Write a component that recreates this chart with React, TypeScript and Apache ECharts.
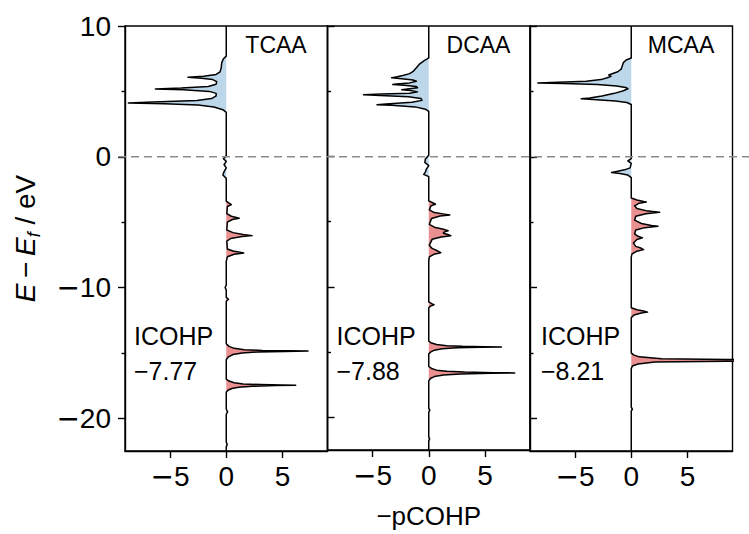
import React, { useEffect, useRef } from "react";
import * as echarts from "echarts";

// ---- data (energy E − Ef in eV, −pCOHP value) ----
const panelNames = ["TCAA", "DCAA", "MCAA"];
const icohpLabel = "ICOHP";
const icohpValues = ["\u22127.77", "\u22127.88", "\u22128.21"];
const xTicks = [-5, 0, 5];
const yMajorTicks = [-20, -10, 0, 10];
const yMinorTicks = [-15, -5, 5];

const tcaaCurve: [number, number][] = [
  [10, 0], [7.7, 0], [7.5, -0.25], [7.2, -0.4], [6.8, -0.45], [6.5, -0.55], [6.3, -0.9],
  [6.15, -2.0], [6.08, -3.4], [6.0, -2.2], [5.9, -1.2], [5.75, -0.85], [5.55, -0.9],
  [5.38, -1.6], [5.25, -4.0], [5.18, -6.3], [5.12, -3.8], [5.0, -1.5], [4.85, -0.9],
  [4.65, -0.9], [4.45, -1.3], [4.3, -2.6], [4.18, -6.5], [4.12, -8.7], [4.06, -5.5],
  [3.95, -2.5], [3.8, -1.1], [3.6, -0.3], [3.4, 0],
  [0.1, 0], [-0.15, -0.25], [-0.35, 0], [-0.6, -0.2], [-0.85, 0], [-1.15, -0.2], [-1.4, -0.3], [-1.65, 0],
  [-3.4, 0], [-3.55, 0.25], [-3.66, 0.45], [-3.8, 0.1], [-4.35, 0.05], [-4.55, 0.45], [-4.7, 1.15], [-4.8, 0.55], [-5.0, 0.1],
  [-5.6, 0.05], [-5.8, 0.6], [-5.95, 1.5], [-6.03, 2.3], [-6.1, 1.4], [-6.25, 0.4], [-6.45, 0.05],
  [-7.05, 0.1], [-7.2, 0.6], [-7.35, 1.55], [-7.45, 0.7], [-7.65, 0.1], [-8.0, 0],
  [-9.8, 0], [-10.0, -0.1], [-10.2, 0], [-10.75, 0], [-10.9, 0.2], [-11.05, 0],
  [-14.3, 0], [-14.5, 0.25], [-14.65, 0.7], [-14.75, 1.6], [-14.81, 3.2], [-14.84, 5.5], [-14.86, 7.27],
  [-14.89, 5.2], [-14.93, 2.8], [-15.0, 1.4], [-15.12, 0.6], [-15.3, 0.2], [-15.5, 0],
  [-17.0, 0], [-17.15, 0.25], [-17.28, 0.7], [-17.37, 1.5], [-17.42, 3.0], [-17.45, 5.0], [-17.47, 6.17],
  [-17.5, 4.4], [-17.55, 2.3], [-17.62, 1.1], [-17.72, 0.5], [-17.85, 0.15], [-18.0, 0],
  [-19.3, 0], [-19.5, 0.12], [-19.7, 0], [-21.8, 0], [-22.0, 0.08], [-22.2, 0], [-22.5, 0],
];

const dcaaCurve: [number, number][] = [
  [10, 0], [7.55, 0], [7.35, -0.4], [7.1, -0.8], [6.8, -1.1], [6.55, -1.35], [6.35, -1.7],
  [6.2, -2.3], [6.08, -3.0], [6.03, -3.3], [5.96, -2.4], [5.86, -1.4], [5.76, -1.1],
  [5.64, -1.7], [5.56, -2.9], [5.52, -3.2], [5.46, -2.2], [5.36, -1.1], [5.26, -1.0],
  [5.18, -1.9], [5.12, -2.4], [5.05, -1.6], [4.95, -1.0], [4.85, -1.7], [4.78, -4.2],
  [4.73, -5.8], [4.68, -4.3], [4.58, -1.8], [4.45, -0.7], [4.3, -0.6], [4.15, -1.5],
  [4.03, -3.8], [3.97, -4.6], [3.92, -3.3], [3.8, -1.2], [3.62, -0.3], [3.45, 0],
  [0.1, 0], [-0.2, -0.3], [-0.45, -0.35], [-0.7, 0], [-0.95, -0.2], [-1.2, -0.3], [-1.37, -0.45], [-1.55, 0],
  [-3.4, 0], [-3.55, 0.35], [-3.66, 0.6], [-3.78, 0.2], [-4.1, 0.05], [-4.3, 0.5], [-4.42, 1.4],
  [-4.48, 1.87], [-4.56, 1.0], [-4.75, 0.25], [-5.2, 0.05], [-5.42, 0.5], [-5.58, 1.3], [-5.7, 1.72],
  [-5.8, 1.35], [-5.88, 1.3], [-5.98, 1.7], [-6.08, 1.96], [-6.18, 1.1], [-6.35, 0.3], [-6.8, 0.05],
  [-7.05, 0.3], [-7.25, 0.8], [-7.38, 1.07], [-7.5, 0.45], [-7.7, 0.05], [-8.0, 0],
  [-11.15, 0], [-11.3, 0.3], [-11.37, 0.47], [-11.47, 0.15], [-11.6, 0],
  [-14.15, 0], [-14.3, 0.25], [-14.42, 0.7], [-14.5, 1.6], [-14.55, 3.0], [-14.58, 5.0], [-14.6, 6.46],
  [-14.63, 4.6], [-14.67, 2.5], [-14.74, 1.2], [-14.85, 0.5], [-15.0, 0.15], [-15.15, 0],
  [-16.1, 0], [-16.25, 0.25], [-16.38, 0.7], [-16.47, 1.6], [-16.53, 3.2], [-16.57, 5.8], [-16.59, 7.64],
  [-16.62, 5.5], [-16.67, 2.8], [-16.75, 1.3], [-16.87, 0.5], [-17.02, 0.15], [-17.2, 0],
  [-19.3, 0], [-19.45, 0.1], [-19.6, 0], [-21.5, 0], [-21.65, 0.08], [-21.8, 0], [-22.5, 0],
];

const mcaaCurve: [number, number][] = [
  [10, 0], [7.55, 0], [7.4, -0.45], [7.2, -0.7], [6.95, -0.8], [6.7, -0.9], [6.5, -1.2],
  [6.35, -1.7], [6.26, -2.0], [6.15, -1.8], [6.02, -2.2], [5.9, -2.7], [5.78, -4.0],
  [5.7, -6.5], [5.65, -8.3], [5.6, -6.0], [5.52, -3.0], [5.42, -1.3], [5.3, -0.5],
  [5.2, -0.3], [5.05, -0.7], [4.85, -1.5], [4.65, -2.6], [4.5, -3.7], [4.43, -4.44],
  [4.37, -3.4], [4.27, -1.4], [4.15, -0.4], [4.0, 0],
  [-0.15, 0], [-0.32, -0.3], [-0.5, 0], [-0.85, -0.1], [-1.0, -0.6], [-1.12, -1.3], [-1.2, -1.75],
  [-1.28, -1.0], [-1.4, -0.3], [-1.6, 0],
  [-3.15, 0], [-3.3, 0.5], [-3.42, 1.1], [-3.46, 1.33], [-3.55, 0.7], [-3.75, 0.3], [-3.95, 0.5],
  [-4.12, 1.3], [-4.25, 2.52], [-4.35, 1.3], [-4.55, 0.4], [-4.85, 0.3], [-5.1, 0.9], [-5.25, 1.8],
  [-5.32, 2.37], [-5.42, 1.2], [-5.6, 0.4], [-5.9, 0.3], [-6.08, 0.6], [-6.2, 1.0], [-6.32, 0.5],
  [-6.6, 0.2], [-6.85, 0.4], [-7.0, 0.9], [-7.1, 1.1], [-7.22, 0.5], [-7.45, 0.05], [-7.7, 0],
  [-11.55, 0], [-11.7, 0.5], [-11.8, 1.1], [-11.88, 1.45], [-11.95, 0.9], [-12.1, 0.25], [-12.3, 0],
  [-15.0, 0], [-15.15, 0.2], [-15.3, 0.7], [-15.45, 2.7], [-15.5, 8.5], [-15.57, 14.0],
  [-15.64, 8.5], [-15.7, 2.1], [-15.85, 0.6], [-16.0, 0.1], [-16.2, 0],
  [-19.15, 0], [-19.3, 0.1], [-19.45, 0], [-22.5, 0],
];

const BLUE = "#bdd7ea";
const RED = "#eb9090";
const FONT = "'Liberation Sans', Arial, Helvetica, sans-serif";

export default function App() {
  const ref = useRef<HTMLDivElement>(null);
  useEffect(() => {
    const chart = echarts.init(ref.current!, null, { renderer: "svg" });
    const curves = [tcaaCurve, dcaaCurve, mcaaCurve];
    const gridLeft = 125;
    const gridW = 202.5;
    const gridTop = 26;
    const gridH = 425;
    const tickFmt = (v: number) => (v < 0 ? "{m|\u2212}" + String(Math.abs(v)) : String(v));
    const tickRich = { m: { fontFamily: "'DejaVu Sans'", fontSize: 28, color: "#000" } };
    const lineW = 1.4;

    const grids = curves.map((_, i) => ({
      left: gridLeft + i * gridW,
      top: gridTop,
      width: gridW,
      height: gridH,
      show: true,
      borderColor: "#000",
      borderWidth: lineW,
      backgroundColor: "transparent",
    }));

    const xAxes = curves.map((_, i) => ({
      type: "value",
      gridIndex: i,
      min: -9,
      max: 9,
      axisLine: { show: true, onZero: false, lineStyle: { color: "#000", width: lineW } },
      axisTick: { show: true, length: 7, lineStyle: { color: "#000", width: lineW }, customValues: xTicks },
      axisLabel: {
        customValues: xTicks,
        formatter: tickFmt,
        rich: tickRich,
        fontSize: 28,
        color: "#000",
        margin: 11,
        fontFamily: FONT,
      },
      splitLine: { show: false },
      ...(i === 1
        ? {
            name: "\u2212pCOHP",
            nameLocation: "middle",
            nameGap: 53,
            nameTextStyle: { fontSize: 26, color: "#000", fontFamily: FONT },
          }
        : {}),
    }));

    const yAxes: any[] = [];
    curves.forEach((_, i) => {
      yAxes.push({
        type: "value",
        gridIndex: i,
        min: -22.5,
        max: 10,
        position: "left",
        axisLine: { show: true, onZero: false, lineStyle: { color: "#000", width: lineW } },
        axisTick: { show: true, inside: i > 0, length: 7, lineStyle: { color: "#000", width: lineW }, customValues: yMajorTicks },
        axisLabel: {
          show: i === 0,
          customValues: yMajorTicks,
          formatter: tickFmt,
          rich: tickRich,
          fontSize: 28,
          color: "#000",
          margin: 14,
          fontFamily: FONT,
        },
        splitLine: { show: false },
        ...(i === 0
          ? {
              name: "{i|E}\u2009\u2212\u2009{i|E}{s|f} / eV",
              nameLocation: "middle",
              nameGap: 82,
              nameTextStyle: {
                fontSize: 28,
                color: "#000",
                fontFamily: FONT,
                rich: {
                  i: { fontStyle: "italic", fontSize: 28, fontFamily: FONT, color: "#000" },
                  s: { fontStyle: "italic", fontSize: 18, fontFamily: FONT, color: "#000", padding: [17, 0, 0, 0] },
                },
              },
            }
          : {}),
      });
      yAxes.push({
        type: "value",
        gridIndex: i,
        min: -22.5,
        max: 10,
        position: "left",
        axisLine: { show: false, onZero: false },
        axisTick: { show: true, inside: i > 0, length: 3.5, lineStyle: { color: "#000", width: lineW }, customValues: yMinorTicks },
        axisLabel: { show: false, customValues: yMinorTicks },
        splitLine: { show: false },
      });
    });

    const series: any[] = [];
    curves.forEach((curve, i) => {
      series.push({
        type: "custom",
        xAxisIndex: i,
        yAxisIndex: i * 2,
        clip: true,
        silent: true,
        z: 1,
        data: [[0, 0]],
        renderItem: (params: any, api: any) => {
          const neg = curve.map(([e, v]) => api.coord([Math.min(v, 0), e]));
          const pos = curve.map(([e, v]) => api.coord([Math.max(v, 0), e]));
          return {
            type: "group",
            children: [
              { type: "polygon", shape: { points: neg }, style: { fill: BLUE, stroke: "none" } },
              { type: "polygon", shape: { points: pos }, style: { fill: RED, stroke: "none" } },
            ],
          };
        },
      });
      series.push({
        type: "line",
        xAxisIndex: i,
        yAxisIndex: i * 2,
        data: curve.map(([e, v]) => [v, e]),
        showSymbol: false,
        symbol: "none",
        clip: true,
        z: 2,
        lineStyle: { color: "#000", width: 1.5, join: "round" },
      });
    });

    chart.setOption({
      animation: false,
      backgroundColor: "#fff",
      textStyle: { fontFamily: FONT },
      grid: grids,
      xAxis: xAxes,
      yAxis: yAxes,
      series,
    });

    const y0 = chart.convertToPixel({ yAxisIndex: 0 }, 0) as number;
    const width = chart.getWidth();
    const graphic: any[] = [
      {
        type: "line",
        z: 50,
        silent: true,
        shape: { x1: gridLeft - 7, y1: y0, x2: width, y2: y0 },
        style: { stroke: "#8c8c8c", lineWidth: 1.5, lineDash: [8, 5] },
      },
    ];
    panelNames.forEach((name, i) => {
      const left = gridLeft + i * gridW;
      graphic.push({
        type: "text",
        z: 60,
        x: left + 151,
        y: 45,
        style: { text: name, fontSize: 23, fontFamily: FONT, fill: "#000", align: "center", verticalAlign: "middle" },
      });
      const off = i === 2 ? 11 : 9;
      graphic.push({
        type: "text",
        z: 60,
        x: left + off,
        y: 336,
        style: { text: icohpLabel, fontSize: 25, fontFamily: FONT, fill: "#000", align: "left", verticalAlign: "middle" },
      });
      graphic.push({
        type: "text",
        z: 60,
        x: left + off,
        y: 371,
        style: { text: icohpValues[i], fontSize: 25, fontFamily: FONT, fill: "#000", align: "left", verticalAlign: "middle" },
      });
    });
    chart.setOption({ graphic });

    return () => chart.dispose();
  }, []);

  return (
    <div
      ref={ref}
      style={{ position: "fixed", left: 0, top: 0, width: 749, height: 534, background: "#fff" }}
    />
  );
}
